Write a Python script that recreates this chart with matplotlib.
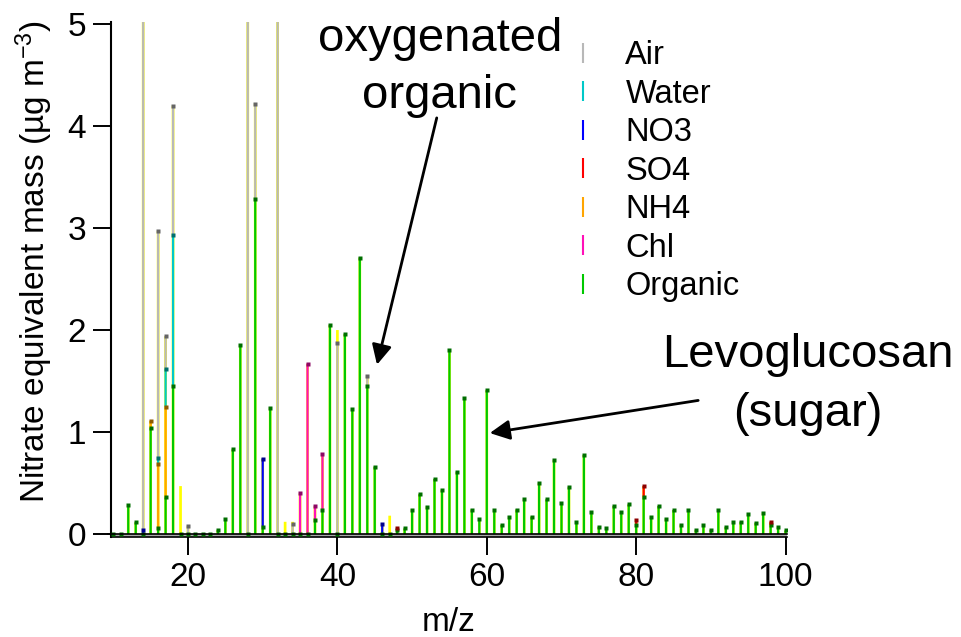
import numpy as np
import matplotlib
matplotlib.use("Agg")
import matplotlib.pyplot as plt
from matplotlib.colors import to_rgb
from matplotlib.lines import Line2D

plt.rcParams['font.family'] = ['Liberation Sans', 'DejaVu Sans']
plt.rcParams['mathtext.default'] = 'regular'

# unit mass resolution spectrum, m/z 10..100
mz = np.arange(10, 101)

organic = [
    0, 0, 0.28, 0.115, 0, 1.04, 0.06, 0.36, 1.45, 0,        # 10-19
    0, 0, 0, 0, 0.04, 0.15, 0.83, 1.85, 0, 3.28,            # 20-29
    0.07, 1.24, 0, 0, 0, 0, 0, 0.14, 0.24, 2.05,            # 30-39
    0, 1.96, 1.23, 2.71, 1.45, 0.66, 0, 0, 0.04, 0.055,     # 40-49
    0.24, 0.39, 0.27, 0.54, 0.43, 1.80, 0.61, 1.33, 0.24, 0.15,   # 50-59
    1.41, 0.235, 0.09, 0.17, 0.24, 0.34, 0.17, 0.50, 0.34, 0.725, # 60-69
    0.30, 0.46, 0.12, 0.775, 0.22, 0.07, 0.055, 0.275, 0.22, 0.29, # 70-79
    0.09, 0.36, 0.17, 0.275, 0.15, 0.235, 0.09, 0.235, 0.04, 0.09, # 80-89
    0.04, 0.235, 0.07, 0.12, 0.12, 0.20, 0.11, 0.21, 0.09, 0.07,   # 90-99
    0.035,                                                  # 100
]

# the inorganic / gas-phase species only show up at a few m/z
chl = {35: 0.40, 36: 1.67, 37: 0.135, 38: 0.54}
so4 = {48: 0.015, 80: 0.05, 81: 0.11, 98: 0.03}
no3 = {14: 0.04, 30: 0.67, 46: 0.10}
nh4 = {15: 0.07, 16: 0.63, 17: 0.885}
water = {16: 0.06, 17: 0.375, 18: 1.48}
air = {14: 7.0, 16: 2.22, 17: 0.32, 18: 1.27, 20: 0.08, 28: 9.0,
       29: 0.94, 32: 6.0, 34: 0.10, 40: 1.87, 44: 0.10}
other = {19: 0.47, 33: 0.12, 34: 0.02, 40: 0.13, 47: 0.18}

# stacking order, bottom to top
species = [
    ("Organic", organic, "#00c800"),
    ("Chl", chl, "#ff10b8"),
    ("SO4", so4, "#ff0000"),
    ("NO3", no3, "#0000ff"),
    ("NH4", nh4, "#ffa500"),
    ("Water", water, "#00c8c8"),
    ("Air", air, "#b8b8b8"),
]
legend_order = ["Air", "Water", "NO3", "SO4", "NH4", "Chl", "Organic"]


def as_array(vals):
    if isinstance(vals, dict):
        out = np.zeros(len(mz))
        for k, v in vals.items():
            out[k - mz[0]] = v
        return out
    return np.asarray(vals, dtype=float)


def darker(c, f=0.55):
    return tuple(x * f for x in to_rgb(c))


fig = plt.figure(figsize=(9.61, 6.37), dpi=100)
ax = fig.add_axes([111 / 961, 100 / 637, 676 / 961, 515 / 637])

arrays = [(name, as_array(v), c) for name, v, c in species]
total = sum(a for _, a, _ in arrays) + as_array(other)

# yellow sticks behind everything (total signal)
nz = total > 0
ax.vlines(mz[nz], 0, total[nz], color="#ffff00", lw=1.95, zorder=2, snap=False)

bottom = np.zeros(len(mz))
for name, vals, c in arrays:
    top = bottom + vals
    nz = vals > 0
    ax.vlines(mz[nz], bottom[nz], top[nz], color=c, lw=1.6, zorder=3, snap=False)
    pts = mz if name == "Organic" else mz[nz]
    tops = top if name == "Organic" else top[nz]
    ax.plot(pts, tops, "s", ms=2.4, color=darker(c), mec="none", zorder=4)
    bottom = top

# double baseline
ax.axhspan(-0.029, 0, color="#a8a8a8", zorder=1)
ax.plot([9.3, 100.2], [0, 0], color="k", lw=1.2, zorder=5, clip_on=False)

ax.set_xlim(9.69, 100.19)
ax.set_ylim(-0.029, 5.02)
ax.set_xticks([20, 40, 60, 80, 100])
ax.set_yticks([0, 1, 2, 3, 4, 5])
ax.tick_params(direction="out", length=13, width=1.4, labelsize=24, pad=5)
for s in ("top", "right"):
    ax.spines[s].set_visible(False)
ax.spines["left"].set_linewidth(1.5)
ax.spines["bottom"].set_linewidth(1.2)

ax.set_xlabel("m/z", fontsize=24, labelpad=10)
ax.set_ylabel("Nitrate equivalent mass (µg m$^{-3}$)", fontsize=24)
ax.yaxis.set_label_coords(-0.083, 0.535)

colors = {name: c for name, _, c in species}
handles = [Line2D([], [], color=colors[n], marker="|", ls="none", ms=14, mew=1.5)
           for n in legend_order]
ax.legend(handles, legend_order, loc="upper left",
          bbox_to_anchor=(567 / 961, 1 - 40 / 637), bbox_transform=fig.transFigure,
          frameon=False, fontsize=23.5, handlelength=1.0, handletextpad=0.79,
          labelspacing=0.23, borderpad=0, borderaxespad=0)

ax.text(53.7, 4.575, "oxygenated\norganic", fontsize=34, ha="center", va="center",
        linespacing=1.37)
ax.annotate("", xy=(45.3, 1.66), xytext=(53.3, 4.08),
            arrowprops=dict(arrowstyle="-|>", mutation_scale=30, lw=2, color="k",
                            shrinkA=0, shrinkB=0))
ax.text(103.0, 1.47, "Levoglucosan\n(sugar)", fontsize=34, ha="center", va="center",
        linespacing=1.44)
ax.annotate("", xy=(60.4, 0.99), xytext=(88.3, 1.31),
            arrowprops=dict(arrowstyle="-|>", mutation_scale=30, lw=2, color="k",
                            shrinkA=0, shrinkB=0))

fig.savefig("out.png", dpi=100)
